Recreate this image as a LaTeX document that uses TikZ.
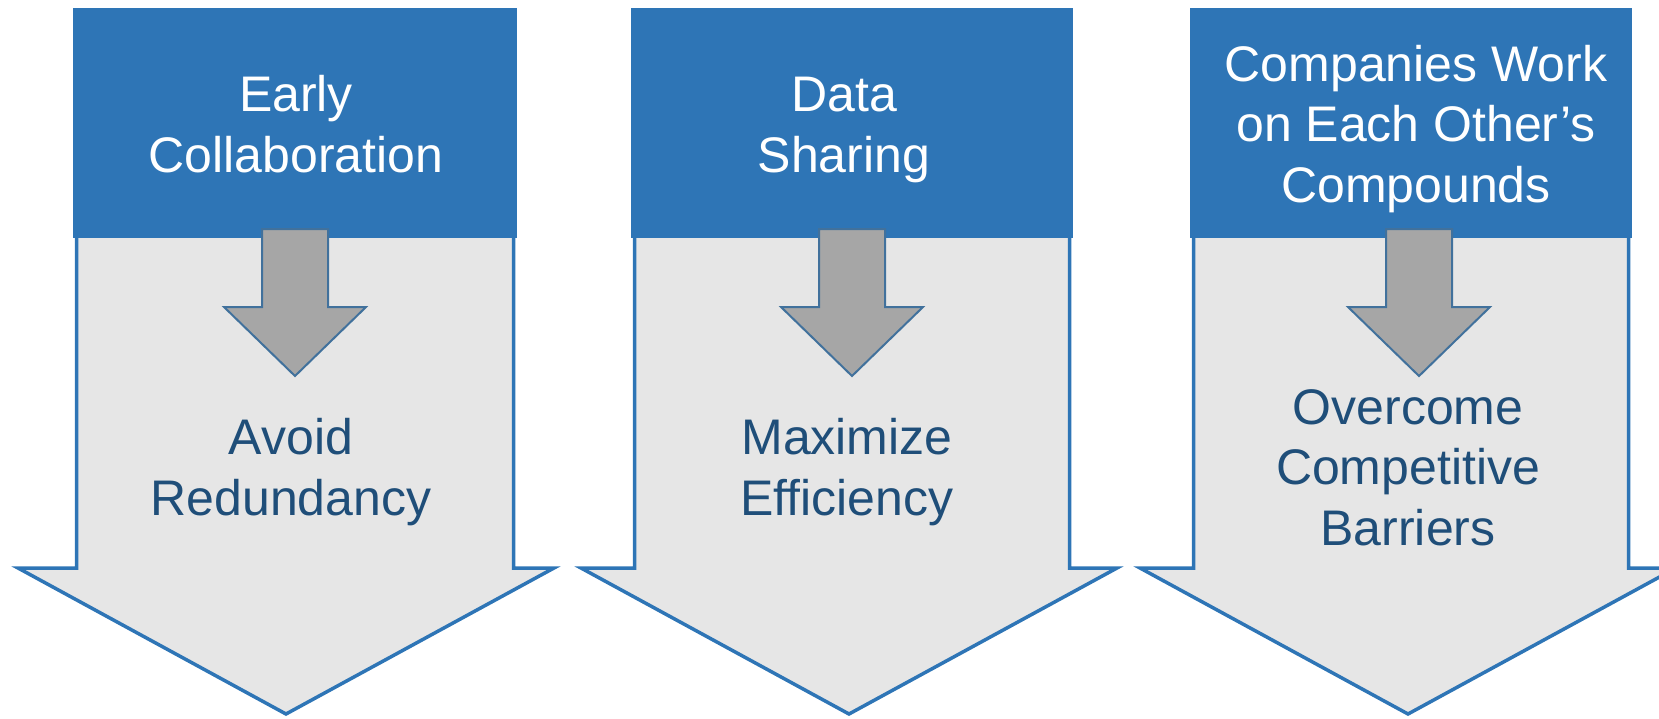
\documentclass[tikz,border=0pt]{standalone}
\usepackage{fontspec}
\setmainfont{Liberation Sans}

\definecolor{hdrblue}{HTML}{2E75B6}
\definecolor{bodygray}{HTML}{E6E6E6}
\definecolor{tipgray}{HTML}{A6A6A6}
\definecolor{tipedge}{HTML}{41719C}
\definecolor{navytext}{HTML}{1F4E79}

% One column: #1/#2 header left/right, #3 big arrow tip x, #4 small arrow axis x
\newcommand\chevpanel[4]{%
  \filldraw[bigarrow] ({#1+3.5},10) -- ({#1+3.5},568) -- ({#3-268},568)
      -- (#3,714) -- ({#3+268},568) -- ({#2-3.5},568) -- ({#2-3.5},10) -- cycle;
  \fill[hdrblue] (#1,8) rectangle (#2,238);
  \filldraw[smallarrow] ({#4-33},229) -- ({#4-33},307) -- ({#4-71},307)
      -- (#4,376) -- ({#4+71},307) -- ({#4+33},307) -- ({#4+33},229) -- cycle;
}

\begin{document}
\begin{tikzpicture}[x=1pt,y=-1pt,
  bigarrow/.style={fill=bodygray, draw=hdrblue, line width=3.5pt, line join=miter},
  smallarrow/.style={fill=tipgray, draw=tipedge, line width=2pt, line join=miter},
  hdrtext/.style={text=white, align=center, anchor=base, inner sep=0pt,
    font=\fontsize{50}{60.5}\selectfont},
  bodytext/.style={text=navytext, align=center, anchor=base, inner sep=0pt,
    font=\fontsize{50}{60.5}\selectfont}]
\useasboundingbox (0,0) rectangle (1659,718);

\chevpanel{73}{517}{286}{295}
\chevpanel{631}{1073}{849}{852}
\chevpanel{1190}{1632}{1408}{1419}

% labels are placed by the baseline of their last line
\node[hdrtext] (h1) at (296,172) {Early\\Collaboration};
\node[bodytext] (b1) at (291,515) {Avoid\\Redundancy};

\node[hdrtext] (h2) at (844,172) {Data\\Sharing};
\node[bodytext] (b2) at (847,515) {Maximize\\Efficiency};

\node[hdrtext] (h3) at (1416,202) {Companies Work\\on Each Other’s\\Compounds};
\node[bodytext] (b3) at (1408,545) {Overcome\\Competitive\\Barriers};
\end{tikzpicture}
\end{document}
